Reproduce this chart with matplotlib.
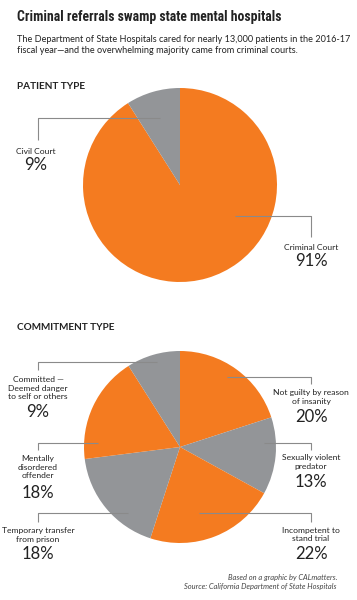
import matplotlib
matplotlib.use("Agg")
import matplotlib.pyplot as plt

# Данные: тип пациентов
patient_labels = ["Criminal Court", "Civil Court"]
patient_values = [91, 9]

# Данные: тип направления (по часовой стрелке от верха)
commit_labels = [
    "Not guilty by reason\nof insanity",
    "Sexually violent\npredator",
    "Incompetent to\nstand trial",
    "Temporary transfer\nfrom prison",
    "Mentally\ndisordered\noffender",
    "Committed \u2014\nDeemed danger\nto self or others",
]
commit_values = [20, 13, 22, 18, 18, 9]

ORANGE = "#F47B20"
GRAY = "#939598"
LINE = "#8a8a8a"
TXT = "#222222"

W, H = 357, 600
fig = plt.figure(figsize=(W / 100, H / 100), dpi=100)
ax = fig.add_axes([0, 0, 1, 1])


def Y(y):
    # пиксели сверху -> координаты снизу
    return H - y


# Пирог 1
ax.pie(patient_values, colors=[ORANGE, GRAY], startangle=90, counterclock=False,
       center=(180, Y(185)), radius=97, wedgeprops=dict(linewidth=0))

# Пирог 2
ax.pie(commit_values, colors=[ORANGE, GRAY] * 3, startangle=90, counterclock=False,
       center=(180, Y(447)), radius=96, wedgeprops=dict(linewidth=0))

ax.set_xlim(0, W)
ax.set_ylim(0, H)
ax.set_aspect("auto")
ax.axis("off")

SANS = ["Lato", "DejaVu Sans"]


def leader(x0, y0, x1, y1):
    ax.plot([x0, x1, x1], [Y(y0), Y(y0), Y(y1)], color=LINE, lw=0.8,
            solid_capstyle="butt", zorder=5)


def label(x, y_text, text, pct, y_pct):
    # y_text - центр блока подписи, y_pct - центр процентов
    ax.text(x, Y(y_text), text, ha="center", va="center", fontsize=6.1,
            color=TXT, family=SANS, linespacing=1.25)
    ax.text(x, Y(y_pct), f"{pct}%", ha="center", va="center", fontsize=12,
            color=TXT, family=SANS)


# Заголовок (подгоняем ширину под ~260 px)
title = ax.text(17, Y(21), "Criminal referrals swamp state mental hospitals",
                ha="left", va="baseline", fontsize=13, fontweight="bold", color=TXT,
                family=["Roboto Condensed", "Liberation Sans Narrow", "Lato", "DejaVu Sans"])
renderer = fig.canvas.get_renderer()
tw = title.get_window_extent(renderer).width
title.set_fontsize(13 * min(1.0, 262 / tw))

ax.text(17, Y(34.5), "The Department of State Hospitals cared for nearly 13,000 patients in the 2016-17\n"
        "fiscal year\u2014and the overwhelming majority came from criminal courts.",
        ha="left", va="top", fontsize=6.6, color=TXT, family=SANS, linespacing=1.35)

ax.text(17, Y(82), "PATIENT TYPE", ha="left", va="top", fontsize=7.2,
        fontweight="bold", color=TXT, family=SANS)
ax.text(17, Y(323), "COMMITMENT TYPE", ha="left", va="top", fontsize=7.2,
        fontweight="bold", color=TXT, family=SANS)

# Подписи пирога 1
leader(160, 118, 38, 140)
label(36, 152, patient_labels[1], patient_values[1], 165)
leader(235, 216, 311, 237)
label(311, 247, patient_labels[0], patient_values[0], 261)

# Подписи пирога 2
leader(227, 377, 311, 384)
label(311, 397, commit_labels[0], commit_values[0], 417)
leader(264, 443, 311, 450)
label(311, 462, commit_labels[1], commit_values[1], 482)
leader(199, 513, 311, 522)
label(311, 534.5, commit_labels[2], commit_values[2], 554)
leader(128, 513, 38, 522)
label(38, 535, commit_labels[3], commit_values[3], 554)
leader(98, 443, 38, 450)
label(38, 467, commit_labels[4], commit_values[4], 493)
leader(157, 362, 38, 370)
label(38, 388, commit_labels[5], commit_values[5], 412)

# Подвал
ax.text(337, Y(574), "Based on a graphic by CALmatters.\nSource: California Department of State Hospitals",
        ha="right", va="top", fontsize=5.4, style="italic", color="#444444",
        family=SANS, linespacing=1.35)

fig.savefig("out.png", dpi=100)
